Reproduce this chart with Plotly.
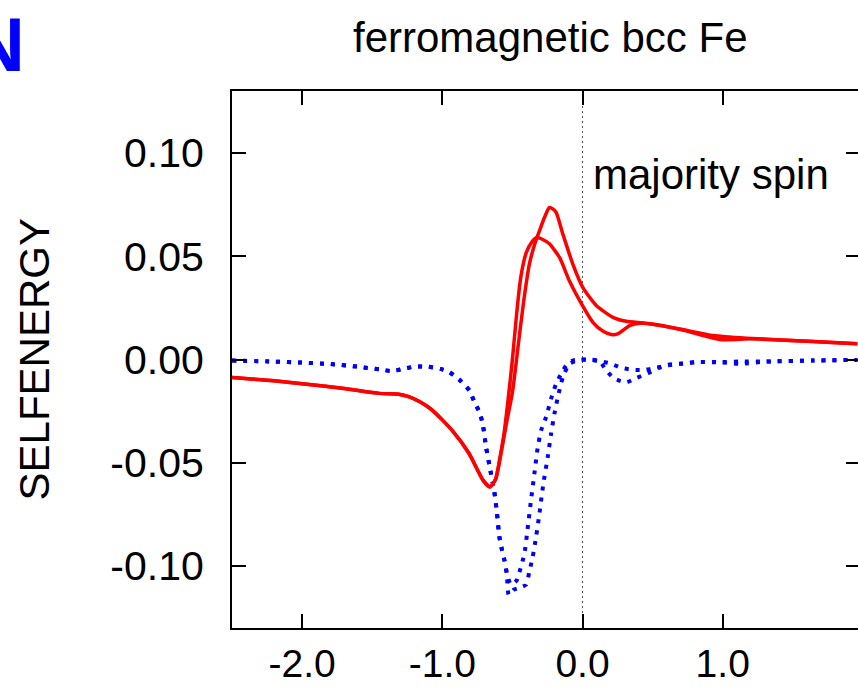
import plotly.graph_objects as go

# ---------------- data ----------------
# shared left branch of the two red (solid) curves
red_left_e = [-2.5, -2.2, -2.0, -1.7, -1.45, -1.31, -1.24, -1.16, -1.07, -0.93, -0.81, -0.71, -0.66]
red_left_s = [-0.0087, -0.0103, -0.0117, -0.014, -0.0164, -0.0168, -0.018, -0.0205, -0.0246, -0.0343, -0.0454, -0.0584, -0.0617]

red_a_e = [-0.62, -0.59, -0.56, -0.53, -0.50, -0.47, -0.44, -0.40, -0.36, -0.33, -0.28, -0.236, -0.164,
           -0.093, -0.02, 0.074, 0.15, 0.205, 0.25, 0.336, 0.41, 0.5, 0.7, 0.98, 1.2, 1.41, 1.645, 1.96]
red_a_s = [-0.058, -0.048, -0.036, -0.019, 0.0, 0.022, 0.040, 0.052, 0.057, 0.059, 0.058, 0.056, 0.0494,
           0.038, 0.0285, 0.018, 0.0135, 0.0121, 0.0124, 0.0164, 0.0175, 0.0172, 0.0145, 0.0097, 0.0100,
           0.0095, 0.0087, 0.0076]

red_b_e = [-0.62, -0.58, -0.54, -0.50, -0.46, -0.42, -0.379, -0.34, -0.307, -0.27, -0.236, -0.21, -0.188,
           -0.14, -0.069, 0.002, 0.098, 0.217, 0.312, 0.455, 0.693, 0.93, 1.17, 1.41, 1.645, 1.96]
red_b_s = [-0.058, -0.045, -0.030, -0.016, 0.006, 0.028, 0.0462, 0.056, 0.0623, 0.069, 0.0736, 0.0728, 0.0712,
           0.0607, 0.0462, 0.0349, 0.0262, 0.0204, 0.0185, 0.0175, 0.0148, 0.0116, 0.0103, 0.0095, 0.0087, 0.0076]

# shared left branch of the two blue (dotted) curves
blue_left_e = [-2.5, -2.2, -2.0, -1.8, -1.6, -1.45, -1.36, -1.28, -1.2, -1.1, -1.0, -0.95, -0.867, -0.807,
               -0.771, -0.736, -0.712, -0.688, -0.664, -0.629, -0.61, -0.593, -0.574, -0.557]
blue_left_s = [-0.0005, -0.001, -0.0015, -0.0022, -0.0035, -0.0048, -0.0056, -0.0046, -0.0034, -0.0035,
               -0.0048, -0.0061, -0.0105, -0.015, -0.0206, -0.0254, -0.0311, -0.0424, -0.0512, -0.0641,
               -0.0745, -0.0858, -0.0923, -0.0971]

blue_c_e = [-0.54, -0.526, -0.49, -0.462, -0.43, -0.402, -0.38, -0.355, -0.331, -0.307, -0.279, -0.248,
            -0.224, -0.2, -0.176, -0.14, -0.093, -0.021, 0.05, 0.121, 0.169, 0.229, 0.312, 0.383, 0.467,
            0.55, 0.62, 0.693, 0.81, 0.98, 1.12, 1.31, 1.645, 1.96]
blue_c_s = [-0.1035, -0.114, -0.1115, -0.1108, -0.110, -0.109, -0.103, -0.0955, -0.0858, -0.0745, -0.06,
            -0.0472, -0.0359, -0.0262, -0.0182, -0.0086, -0.0021, -0.0002, 0.0, -0.0008, -0.0053, -0.0093,
            -0.011, -0.009, -0.0066, -0.004, -0.0024, -0.0021, -0.0013, -0.0013, -0.001, -0.001, -0.0005, -0.0002]

blue_d_e = [-0.54, -0.51, -0.47, -0.45, -0.414, -0.39, -0.367, -0.343, -0.319, -0.295, -0.26, -0.224,
            -0.188, -0.152, -0.117, -0.069, 0.0, 0.121, 0.193, 0.276, 0.36, 0.443, 0.526, 0.598, 0.693,
            0.81, 0.98, 1.12, 1.31, 1.645, 1.96]
blue_d_s = [-0.1035, -0.109, -0.107, -0.103, -0.0939, -0.081, -0.068, -0.0552, -0.0424, -0.0343, -0.0279,
            -0.019, -0.0117, -0.0069, -0.0029, -0.0005, 0.0, -0.0008, -0.0018, -0.004, -0.005, -0.005,
            -0.004, -0.0029, -0.0021, -0.0013, -0.0013, -0.0021, -0.001, -0.0005, -0.0002]

x_tickvals = [-2.0, -1.0, 0.0, 1.0]
x_ticktext = ["-2.0", "-1.0", "0.0", "1.0"]
y_tickvals = [0.10, 0.05, 0.0, -0.05, -0.10]
y_ticktext = ["0.10", "0.05", "0.00", "-0.05", "-0.10"]

title_text = "ferromagnetic bcc Fe"
ylabel_text = "SELFENERGY"
panel_text = "majority spin"
corner_text = "N"

# ---------------- figure ----------------
FONT = "Liberation Sans, Arial, Helvetica, sans-serif"
fig = go.Figure()

red_style = dict(color="#ff0000", width=3.5, shape="spline", smoothing=0.6)
blue_style = dict(color="#0000ff", width=4, dash="4px,7px", shape="spline", smoothing=0.6)

fig.add_trace(go.Scatter(x=blue_left_e + blue_c_e, y=blue_left_s + blue_c_s, mode="lines",
                         line=blue_style, showlegend=False))
fig.add_trace(go.Scatter(x=blue_left_e + blue_d_e, y=blue_left_s + blue_d_s, mode="lines",
                         line=blue_style, showlegend=False))
fig.add_trace(go.Scatter(x=red_left_e + red_a_e, y=red_left_s + red_a_s, mode="lines",
                         line=red_style, showlegend=False))
fig.add_trace(go.Scatter(x=red_left_e + red_b_e, y=red_left_s + red_b_s, mode="lines",
                         line=red_style, showlegend=False))
# invisible trace to activate the right-hand y axis (for mirrored inside ticks)
fig.add_trace(go.Scatter(x=[0], y=[0], yaxis="y2", mode="markers", marker=dict(opacity=0),
                         showlegend=False, hoverinfo="skip"))

# Fermi level marker
fig.add_shape(type="line", xref="x", yref="paper", x0=0, x1=0, y0=0, y1=1,
              line=dict(color="#555555", width=1, dash="2px,3px"), layer="below")

fig.update_layout(
    width=858, height=689,
    margin=dict(l=232, r=0, t=91, b=61),
    paper_bgcolor="white", plot_bgcolor="white",
    font=dict(family=FONT, color="black", size=41),
    xaxis=dict(range=[-2.5, 1.965], showgrid=False, zeroline=False, automargin=False,
               showline=True, linecolor="black", linewidth=2, mirror="ticks",
               ticks="inside", ticklen=14, tickwidth=1.5, tickcolor="black",
               tickvals=x_tickvals, ticktext=x_ticktext, ticklabelstandoff=0,
               tickfont=dict(size=39)),
    yaxis=dict(range=[-0.13, 0.13], showgrid=False, zeroline=False, automargin=False,
               showline=True, linecolor="black", linewidth=2, mirror=False,
               ticks="inside", ticklen=14, tickwidth=1.5, tickcolor="black",
               tickvals=y_tickvals, ticktext=y_ticktext, ticklabelstandoff=18,
               tickfont=dict(size=41)),
    yaxis2=dict(range=[-0.13, 0.13], overlaying="y", side="right", showgrid=False,
                zeroline=False, showline=False, ticks="inside", ticklen=12, automargin=False,
                tickwidth=1.5, tickcolor="black", tickvals=y_tickvals,
                showticklabels=False),
)

fig.add_annotation(text=title_text, xref="paper", yref="paper",
                   x=(550 - 232) / 626, y=1 + (91 - 37) / 537,
                   xanchor="center", yanchor="middle", showarrow=False,
                   font=dict(size=42, family=FONT, color="black"))
fig.add_annotation(text=ylabel_text, xref="paper", yref="paper",
                   x=(34 - 232) / 626, y=0.5, textangle=-90,
                   xanchor="center", yanchor="middle", showarrow=False,
                   font=dict(size=42, family=FONT, color="black"))
fig.add_annotation(text=panel_text, xref="x", yref="y", x=0.06, y=0.0894,
                   xanchor="left", yanchor="middle", showarrow=False,
                   font=dict(size=42, family=FONT, color="black"))
fig.add_annotation(text="<b>" + corner_text + "</b>", xref="paper", yref="paper",
                   x=(27 - 232) / 626, y=1 + (91 - 44) / 537,
                   xanchor="right", yanchor="middle", showarrow=False,
                   font=dict(size=76, family=FONT, color="#0000ff"))

fig.write_html("out.html")
